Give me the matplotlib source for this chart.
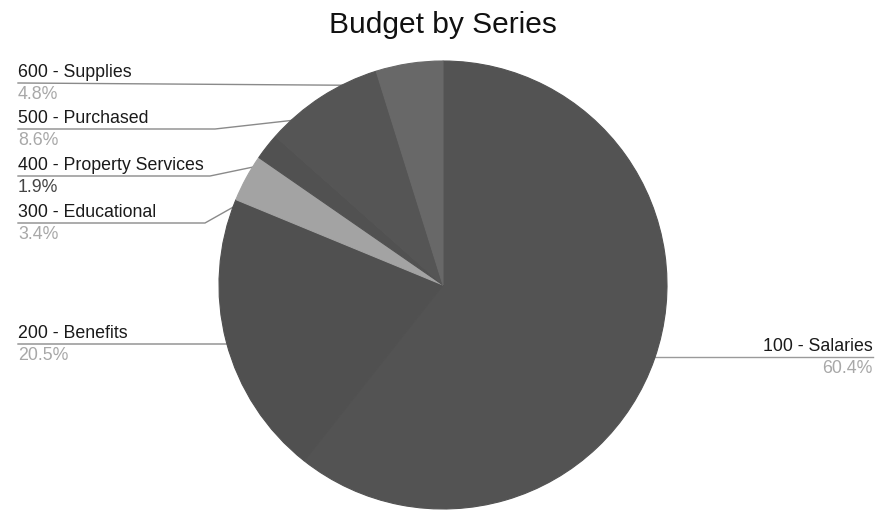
import numpy as np
import matplotlib.pyplot as plt

plt.rcParams['font.family'] = ['Liberation Sans', 'DejaVu Sans']

# -----
# Budget data (percent of total)
# -----
series = ['100 - Salaries', '200 - Benefits', '300 - Educational',
          '400 - Property Services', '500 - Purchased', '600 - Supplies']
shares = [60.4, 20.5, 3.4, 1.9, 8.6, 4.8]
pct_labels = ['60.4%', '20.5%', '3.4%', '1.9%', '8.6%', '4.8%']
colors = ['#535353', '#505050', '#a3a3a3', '#515151', '#555555', '#686868']

fig = plt.figure(figsize=(8.86, 5.13), dpi=100)
ax = fig.add_axes([0, 0, 1, 1])

cx, cy, r = 443, 285, 224
# y axis runs downward, so startangle=-90 points to 12 o'clock and
# counterclock=True turns out clockwise on screen
wedges, _ = ax.pie(shares, colors=colors, startangle=-90, counterclock=True,
                   center=(cx, cy), radius=r, frame=True,
                   wedgeprops=dict(linewidth=0.8, zorder=3))
for w, c in zip(wedges, colors):
    w.set_edgecolor(c)
ax.set_xlim(0, 886)
ax.set_ylim(513, 0)
ax.set_aspect('equal')
ax.axis('off')

# label layout: (text x, leader line y, elbow x, side)
layout = {
    '100 - Salaries': (873, 357, 700, 'right'),
    '200 - Benefits': (18, 344, 240, 'left'),
    '300 - Educational': (18, 223, 205, 'left'),
    '400 - Property Services': (18, 176, 210, 'left'),
    '500 - Purchased': (18, 129, 215, 'left'),
    '600 - Supplies': (18, 83, 20, 'left'),
}
pct_colors = ['#a8a8a8', '#a8a8a8', '#a8a8a8', '#444444', '#a8a8a8', '#a8a8a8']

for w, name, pct, pc in zip(wedges, series, pct_labels, pct_colors):
    tx, liney, ex, side = layout[name]
    mid = np.deg2rad((w.theta1 + w.theta2) / 2)
    ax_x = cx + 0.9 * r * np.cos(mid)
    ax_y = cy + 0.9 * r * np.sin(mid)
    if side == 'right':
        ax.plot([ax_x, tx], [liney, liney], color='#9a9a9a', lw=1, zorder=1)
    else:
        ax.plot([tx, ex, ax_x], [liney, liney, ax_y], color='#8a8a8a', lw=1, zorder=1)
    ax.text(tx, liney - 6, name, ha=side, va='baseline', fontsize=12.8, color='#1a1a1a')
    ax.text(tx, liney + 16, pct, ha=side, va='baseline', fontsize=12.8, color=pc)

ax.text(443, 33, 'Budget by Series', ha='center', va='baseline', fontsize=21.5, color='#111111')

fig.savefig('out.png', dpi=100)
